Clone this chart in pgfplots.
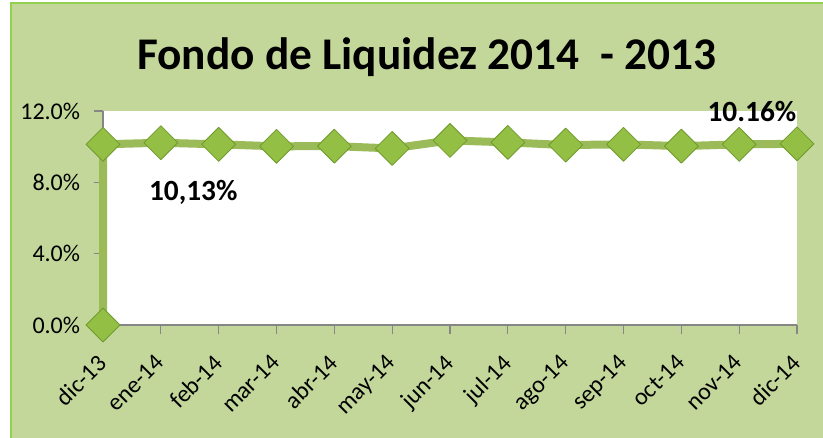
\documentclass[border=0pt]{standalone}
\usepackage{pgfplots}
\pgfplotsset{compat=1.18}
\usepackage{fontspec}
\setmainfont{Carlito}
\definecolor{bg}{HTML}{C4D79B}
\definecolor{frame}{HTML}{92D050}
\definecolor{ln}{HTML}{9BBB59}
\definecolor{mk}{HTML}{93BF45}
\definecolor{mkd}{HTML}{6F9A2C}
\definecolor{tk}{HTML}{868686}
\begin{document}
\begin{tikzpicture}
\useasboundingbox (0,0) rectangle (617.25pt,328.5pt);
\fill[white] (0,0) rectangle (617.25pt,328.5pt);
\fill[bg] (7.9pt,0) rectangle (617.25pt,325.9pt);
\draw[frame, line width=1.5pt] (7.9pt,0) -- (7.9pt,325.9pt) -- (617.25pt,325.9pt);
\node[anchor=base, font=\fontsize{34}{40}\selectfont\bfseries] at (320pt,276pt) {Fondo de Liquidez 2014\ \ - 2013};
\begin{axis}[
  at={(77.25pt,84.75pt)}, anchor=south west,
  scale only axis, width=520.5pt, height=160.5pt,
  xmin=0, xmax=12, ymin=0, ymax=12,
  axis background/.style={fill=white},
  axis x line*=bottom, axis y line*=left,
  axis line style={tk, line width=0.8pt},
  tick style={tk, line width=0.8pt},
  tick align=outside, major tick length=7pt,
  xtick={0,...,12},
  xticklabels={dic-13,ene-14,feb-14,mar-14,abr-14,may-14,jun-14,jul-14,ago-14,sep-14,oct-14,nov-14,dic-14},
  xticklabel style={xshift=-5pt, yshift=-14pt, rotate=45, anchor=north east, inner sep=0pt, font=\fontsize{18}{21}\selectfont},
  ytick={0,4,8,12},
  yticklabel={\pgfmathprintnumber[fixed,fixed zerofill,precision=1]{\tick}\%},
  yticklabel style={anchor=east, inner sep=0pt, xshift=-10pt, font=\fontsize{18}{21}\selectfont},
  /pgf/number format/assume math mode=true,
  clip=false,
]
\addplot[ln, line width=6pt, line join=round,
  mark=square*, mark size=9pt,
  mark options={rotate=45, fill=mk, draw=mkd, line width=0.6pt, solid}]
coordinates {
(0,0) (0,10.13) (1,10.22) (2,10.13) (3,10.02) (4,10.03) (5,9.90) (6,10.35)
(7,10.24) (8,10.09) (9,10.13) (10,10.03) (11,10.13) (12,10.16)
};
\node[font=\fontsize{22}{26}\selectfont\bfseries] at (axis cs:1.56,7.42) {10,13\%};
\node[font=\fontsize{22}{26}\selectfont\bfseries] at (axis cs:11.22,11.98) {10.16\%};
\end{axis}
\end{tikzpicture}
\end{document}
